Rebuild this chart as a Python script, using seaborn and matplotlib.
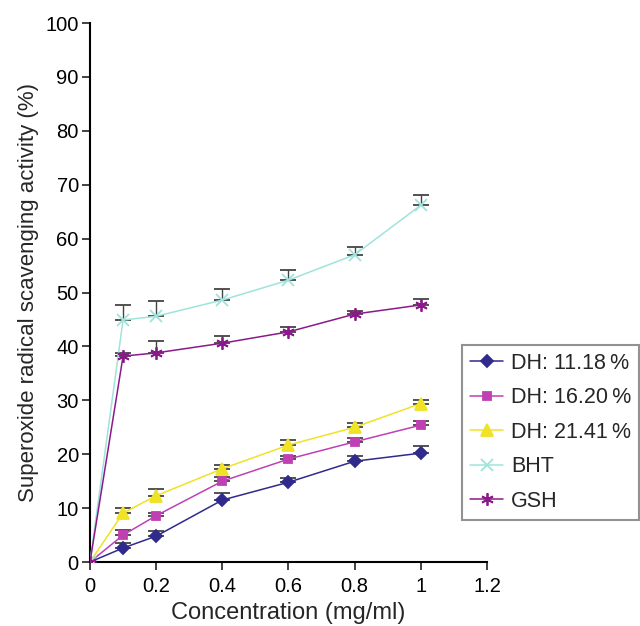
import matplotlib
matplotlib.use('Agg')
import matplotlib.pyplot as plt
import pandas as pd
import seaborn as sns
import numpy as np

conc = [0, 0.1, 0.2, 0.4, 0.6, 0.8, 1.0]

dh1118 = [0, 2.6, 4.8, 11.5, 14.8, 18.7, 20.2]
dh1620 = [0, 5.0, 8.6, 15.0, 19.1, 22.3, 25.4]
dh2141 = [0, 9.1, 12.3, 17.3, 21.7, 25.0, 29.4]
bht = [0, 44.9, 45.6, 48.6, 52.3, 57.0, 66.2]
gsh = [0, 38.2, 38.8, 40.6, 42.7, 46.0, 47.7]

err1118 = [0, 0.9, 1.0, 1.3, 0.8, 1.0, 1.3]
err1620 = [0, 1.0, 0.5, 0.8, 0.6, 0.7, 0.8]
err2141 = [0, 0.9, 1.3, 0.7, 0.9, 0.8, 0.7]
errbht = [0, 2.8, 2.8, 2.0, 1.9, 1.4, 1.9]
errgsh = [0, 0.5, 2.2, 1.3, 0.9, 0.6, 1.1]

names = ['DH: 11.18\u2009%', 'DH: 16.20\u2009%', 'DH: 21.41\u2009%', 'BHT', 'GSH']
series = [dh1118, dh1620, dh2141, bht, gsh]
errors = [err1118, err1620, err2141, errbht, errgsh]
colors = ['#2f2a8c', '#c040b4', '#f0e224', '#9fe3dc', '#8a1a8a']
markers = ['D', 's', '^', 'x', (6, 2, 0)]
msizes = [6, 6, 8, 9, 9]

rows = []
for n, s in zip(names, series):
    for c, v in zip(conc, s):
        rows.append({'conc': c, 'value': v, 'sample': n})
df = pd.DataFrame(rows)

sns.set_style('ticks')
plt.rcParams['font.family'] = ['Liberation Sans', 'DejaVu Sans']

fig = plt.figure(figsize=(6.4, 6.26), dpi=100)
ax = fig.add_axes([0.1406, 0.1022, 0.6203, 0.861])

for n, e in zip(names, errors):
    sub = df[df['sample'] == n]
    ax.errorbar(sub['conc'], sub['value'], yerr=[np.zeros(len(e)), e],
                fmt='none', ecolor='#444444', elinewidth=1.0, capsize=6, capthick=1.3, zorder=1)

for n, col, m, ms in zip(names, colors, markers, msizes):
    sub = df[df['sample'] == n]
    sns.lineplot(data=sub, x='conc', y='value', color=col, marker=m, markersize=ms,
                 markeredgecolor=col, markerfacecolor=col, markeredgewidth=1.3,
                 linewidth=1.1, ax=ax, zorder=3)

ax.set_xlim(0, 1.2)
ax.set_ylim(0, 100)
ax.set_xticks([0, 0.2, 0.4, 0.6, 0.8, 1.0, 1.2])
ax.set_xticklabels(['0', '0.2', '0.4', '0.6', '0.8', '1', '1.2'])
ax.set_yticks(range(0, 101, 10))
ax.tick_params(labelsize=14.5, length=6, width=1.2, direction='out', color='#222222',
               labelcolor='black')
ax.tick_params(axis='y', pad=2)
ax.tick_params(axis='x', pad=5)
for sp in ['left', 'bottom']:
    ax.spines[sp].set_linewidth(1.5)
    ax.spines[sp].set_color('black')
sns.despine(ax=ax)
ax.set_xlabel('Concentration (mg/ml)', fontsize=17, labelpad=4)
ax.set_ylabel('Superoxide radical scavenging activity (%)', fontsize=16, labelpad=5)

handles = [plt.Line2D([], [], color=c, marker=m, markersize=ms, markeredgecolor=c,
                      markerfacecolor=c, lw=1.1, mew=1.3)
           for c, m, ms in zip(colors, markers, msizes)]
leg = fig.legend(handles, names, loc='upper left', bbox_to_anchor=(0.722, 0.449),
                 fontsize=15.5, frameon=True, fancybox=False, handlelength=1.55,
                 labelspacing=0.63, borderpad=0.36, handletextpad=0.37, borderaxespad=0)
leg.get_frame().set_edgecolor('#777777')
leg.get_frame().set_linewidth(1.5)

fig.savefig('out.png', dpi=100)
